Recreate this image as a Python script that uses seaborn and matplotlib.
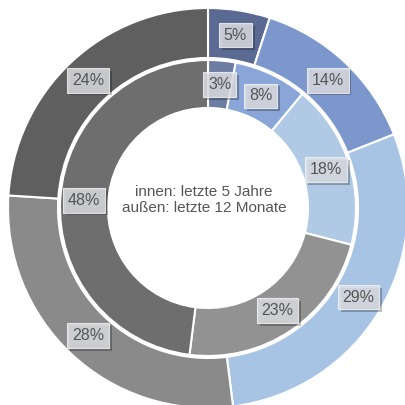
import matplotlib
matplotlib.use("Agg")
import matplotlib.pyplot as plt
import matplotlib.patheffects as pe
import seaborn as sns
import numpy as np

# Data
outer_values = [5, 14, 29, 28, 24]   # außen: letzte 12 Monate
inner_values = [3, 8, 18, 23, 48]    # innen: letzte 5 Jahre
outer_colors = ["#5b6a93", "#7b97cc", "#a8c4e4", "#8a8a8a", "#5f5f5f"]
inner_colors = ["#6d7ca3", "#8aa5d8", "#b0cae6", "#929292", "#6e6e6e"]
center_text = "innen: letzte 5 Jahre\naußen: letzte 12 Monate"

sns.set_theme(style="white")
plt.rcParams['font.family'] = ['Liberation Sans', 'DejaVu Sans']

fig = plt.figure(figsize=(4.05, 4.05), dpi=100)
ax = fig.add_axes([0, 0, 1, 1])

R_out, W_out = 200, 50
R_in, W_in = 148, 48

wedge_kw = dict(edgecolor="white", linewidth=1.5)
ax.pie(outer_values, radius=R_out, colors=sns.color_palette(outer_colors),
       startangle=90, counterclock=False,
       wedgeprops=dict(width=W_out, **wedge_kw))
ax.pie(inner_values, radius=R_in, colors=sns.color_palette(inner_colors),
       startangle=90, counterclock=False,
       wedgeprops=dict(width=W_in, **wedge_kw))

# white gap ring between the two donuts
gap = plt.Circle((0, 0), 149, fill=False, edgecolor="white", linewidth=2.0, zorder=3)
ax.add_patch(gap)


def put_labels(values, r_mid):
    total = sum(values)
    cum = 0
    for v in values:
        mid = (cum + v / 2) / total * 360.0
        cum += v
        ang = np.deg2rad(90 - mid)
        x, y = r_mid * np.cos(ang), r_mid * np.sin(ang)
        t = ax.text(x, y, f"{v}%", ha="center", va="center", fontsize=11.5,
                    color="#555555", zorder=5,
                    bbox=dict(boxstyle="square,pad=0.3", facecolor="#e2e4e8",
                              alpha=0.82, edgecolor="#f2f2f2", linewidth=0.8))
        t.get_bbox_patch().set_path_effects([
            pe.SimplePatchShadow(offset=(2, -2), shadow_rgbFace="black", alpha=0.25),
            pe.Normal()])


put_labels(outer_values, 175)
put_labels(inner_values, 124)

ax.text(-4, 8, center_text, ha="center", va="center", fontsize=11,
        color="#555555", linespacing=1.25, zorder=5)

ax.set_xlim(-208, 197)
ax.set_ylim(-197, 208)
ax.set_aspect("equal")
ax.axis("off")

fig.savefig("out.png", dpi=100)
